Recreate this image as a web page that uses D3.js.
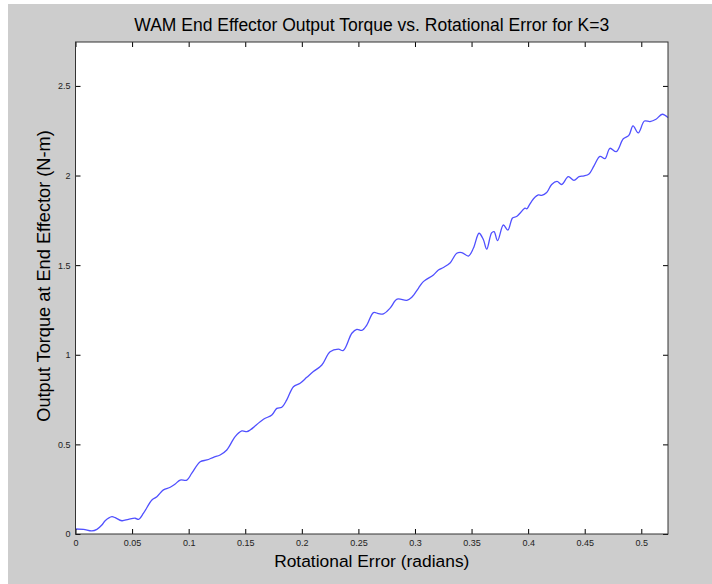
<!DOCTYPE html>
<html>
<head>
<meta charset="utf-8">
<script src="https://cdn.jsdelivr.net/npm/d3@7"></script>
<style>
  body { margin: 0; background: #ffffff; }
  svg { display: block; font-family: "Liberation Sans", Arial, sans-serif; }
</style>
</head>
<body>
<div id="chart"></div>
<script>
// rotational error (radians)
var errorRad = [0.0000, 0.0071, 0.0145, 0.0189, 0.0233, 0.0262, 0.0322, 0.0351, 0.0410, 0.0468,
    0.0527, 0.0557, 0.0601, 0.0675, 0.0719, 0.0777, 0.0837, 0.0881, 0.0925, 0.0984,
    0.1028, 0.1102, 0.1161, 0.1219, 0.1278, 0.1337, 0.1411, 0.1470, 0.1514, 0.1543,
    0.1661, 0.1735, 0.1779, 0.1823, 0.1867, 0.1926, 0.1985, 0.2044, 0.2102, 0.2177,
    0.2250, 0.2323, 0.2367, 0.2442, 0.2486, 0.2530, 0.2574, 0.2633, 0.2677, 0.2721,
    0.2780, 0.2842, 0.2928, 0.2972, 0.3030, 0.3074, 0.3163, 0.3207, 0.3251, 0.3310,
    0.3369, 0.3413, 0.3472, 0.3516, 0.3566, 0.3604, 0.3634, 0.3677, 0.3699, 0.3730,
    0.3781, 0.3821, 0.3862, 0.3898, 0.3928, 0.3973, 0.3988, 0.4011, 0.4046, 0.4090,
    0.4120, 0.4164, 0.4208, 0.4255, 0.4297, 0.4355, 0.4405, 0.4450, 0.4494, 0.4538,
    0.4582, 0.4635, 0.4679, 0.4723, 0.4779, 0.4841, 0.4890, 0.4927, 0.4973, 0.5028,
    0.5077, 0.5130, 0.5185, 0.5236];

// output torque at end effector (N-m)
var torqueNm = [0.028, 0.026, 0.017, 0.026, 0.050, 0.074, 0.097, 0.091, 0.074, 0.082,
    0.088, 0.082, 0.116, 0.190, 0.208, 0.246, 0.261, 0.279, 0.301, 0.301,
    0.339, 0.403, 0.413, 0.428, 0.441, 0.469, 0.543, 0.575, 0.571, 0.580,
    0.640, 0.664, 0.701, 0.707, 0.748, 0.822, 0.841, 0.874, 0.906, 0.943,
    1.017, 1.031, 1.024, 1.120, 1.142, 1.136, 1.166, 1.235, 1.230, 1.228,
    1.260, 1.310, 1.304, 1.321, 1.371, 1.408, 1.445, 1.473, 1.487, 1.512,
    1.566, 1.570, 1.551, 1.594, 1.678, 1.643, 1.589, 1.680, 1.687, 1.637,
    1.724, 1.696, 1.763, 1.771, 1.790, 1.818, 1.814, 1.836, 1.869, 1.892,
    1.889, 1.905, 1.950, 1.967, 1.950, 1.994, 1.973, 1.994, 1.998, 2.009,
    2.054, 2.107, 2.094, 2.152, 2.133, 2.205, 2.224, 2.277, 2.238, 2.304,
    2.301, 2.314, 2.342, 2.323];

var xTicks = [0, 0.05, 0.1, 0.15, 0.2, 0.25, 0.3, 0.35, 0.4, 0.45, 0.5];
var yTicks = [0, 0.5, 1, 1.5, 2, 2.5];

var W = 712, H = 584;
var margin = { top: 42, right: 44, bottom: 50, left: 75.5 };
var plotW = W - margin.left - margin.right;
var plotH = H - margin.top - margin.bottom;
var TICK = 5;

var svg = d3.select("#chart").append("svg")
    .attr("width", W)
    .attr("height", H);

// figure background (matlab grey)
svg.append("rect")
    .attr("x", 8).attr("y", 4)
    .attr("width", W - 8).attr("height", H - 4)
    .attr("fill", "#cdcdcd");

var x = d3.scaleLinear().domain([0, Math.PI / 6]).range([0, plotW]);
var y = d3.scaleLinear().domain([0, 2.745]).range([plotH, 0]);

var g = svg.append("g")
    .attr("transform", "translate(" + margin.left + "," + margin.top + ")");

g.append("rect")
    .attr("width", plotW).attr("height", plotH)
    .attr("fill", "#ffffff");

// data line
var pts = errorRad.map(function(d, i) { return [d, torqueNm[i]]; });
var line = d3.line()
    .x(function(d) { return x(d[0]); })
    .y(function(d) { return y(d[1]); })
    .curve(d3.curveCatmullRom.alpha(0.5));

g.append("path")
    .datum(pts)
    .attr("fill", "none")
    .attr("stroke", "#5050ff")
    .attr("stroke-width", 1.3)
    .attr("d", line);

// axes, ticks pointing inward on all four sides
function styleAxis(sel) {
    sel.select(".domain").remove();
    sel.selectAll(".tick line").attr("stroke", "#000");
    sel.selectAll(".tick text")
        .attr("fill", "#222")
        .style("font-size", "9px")
        .style("font-family", "Liberation Sans, Arial, sans-serif");
}

var fmt = function(d) { return d3.format("")(d); };

g.append("g")
    .attr("transform", "translate(0," + plotH + ")")
    .call(d3.axisBottom(x).tickValues(xTicks).tickFormat(fmt).tickSizeInner(-TICK).tickSizeOuter(0).tickPadding(6))
    .call(styleAxis);

g.append("g")
    .call(d3.axisTop(x).tickValues(xTicks).tickFormat("").tickSizeInner(-TICK).tickSizeOuter(0))
    .call(styleAxis);

g.append("g")
    .call(d3.axisLeft(y).tickValues(yTicks).tickFormat(fmt).tickSizeInner(-TICK).tickSizeOuter(0).tickPadding(5))
    .call(styleAxis);

g.append("g")
    .attr("transform", "translate(" + plotW + ",0)")
    .call(d3.axisRight(y).tickValues(yTicks).tickFormat("").tickSizeInner(-TICK).tickSizeOuter(0))
    .call(styleAxis);

// box
g.append("rect")
    .attr("width", plotW).attr("height", plotH)
    .attr("fill", "none")
    .attr("stroke", "#333")
    .attr("stroke-width", 1);

// titles
svg.append("text")
    .attr("x", margin.left + plotW / 2)
    .attr("y", 31)
    .attr("text-anchor", "middle")
    .style("font-size", "17.5px")
    .text("WAM End Effector Output Torque vs. Rotational Error for K=3");

svg.append("text")
    .attr("x", margin.left + plotW / 2)
    .attr("y", 567)
    .attr("text-anchor", "middle")
    .style("font-size", "17.4px")
    .text("Rotational Error (radians)");

svg.append("text")
    .attr("transform", "translate(50,276) rotate(-90)")
    .attr("text-anchor", "middle")
    .style("font-size", "18.2px")
    .text("Output Torque at End Effector (N-m)");
</script>
</body>
</html>
